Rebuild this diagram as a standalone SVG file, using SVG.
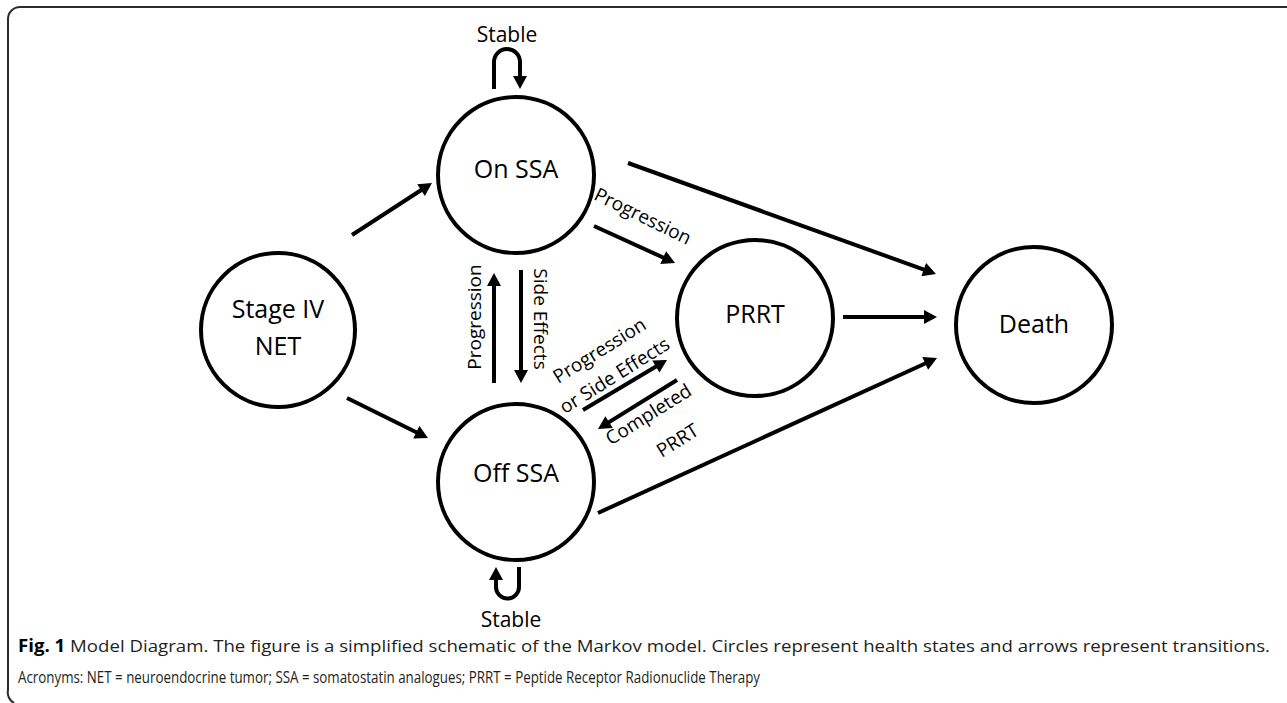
<svg xmlns="http://www.w3.org/2000/svg" width="1287" height="703" viewBox="0 0 1287 703">
<style>
.node circle{fill:#fff;stroke:#000;stroke-width:4}
.lbl{font-family:"Open Sans","Noto Sans",sans-serif;font-size:25px;fill:#000;text-anchor:middle}
.el{font-family:"Open Sans","Noto Sans",sans-serif;font-size:19px;fill:#000;text-anchor:middle}
.st{font-family:"Open Sans","Noto Sans",sans-serif;font-size:21px;fill:#000;text-anchor:middle}
.edge{fill:none;stroke:#000;stroke-width:4;marker-end:url(#ah)}
.cap{font-family:"Open Sans","Noto Sans",sans-serif;font-size:17px;fill:#231f20}
</style>
<defs>
<marker id="ah" markerUnits="userSpaceOnUse" markerWidth="14" markerHeight="14" refX="9" refY="7" orient="auto" viewBox="0 0 13 14">
<path d="M0,0 L13,7 L0,14 z" fill="#000"/>
</marker>
</defs>
<path d="M1290,7 H20 A12,12 0 0 0 8,19 V690 A12,12 0 0 0 14,703" fill="none" stroke="#2b2b2b" stroke-width="2"/>
<g id="connectors">
<line class="edge" x1="352" y1="235" x2="428.6" y2="185.2"/>
<line class="edge" x1="347" y1="398" x2="424.4" y2="436.2"/>
<line class="edge" x1="628" y1="163" x2="932.2" y2="272.6"/>
<line class="edge" x1="843" y1="317" x2="933" y2="317"/>
<line class="edge" x1="598" y1="513" x2="933.4" y2="359.7"/>
<line class="edge" x1="594" y1="226" x2="671.4" y2="261.3"/>
<line class="edge" x1="494" y1="383" x2="494" y2="277"/>
<line class="edge" x1="521" y1="270" x2="521" y2="379"/>
<line class="edge" x1="583" y1="410" x2="663.6" y2="362"/>
<line class="edge" x1="677" y1="380" x2="601.4" y2="426.9"/>
<path class="edge" d="M494,89 V62 A13,13 0 0 1 520,62 V85"/>
<path class="edge" d="M519,567 V587 A11.5,11.5 0 0 1 496,587 V571"/>
<text class="st" x="507" y="42">Stable</text>
<text class="st" x="511" y="627">Stable</text>
<text class="el" transform="translate(481,317) rotate(-90)">Progression</text>
<text class="el" transform="translate(534,319) rotate(90)">Side Effects</text>
<text class="el" transform="translate(640,222) rotate(26)">Progression</text>
<text class="el" transform="translate(603,356) rotate(-32)">Progression</text>
<text class="el" transform="translate(618,381) rotate(-32)">or Side Effects</text>
<text class="el" transform="translate(652,420) rotate(-32)">Completed</text>
<text class="el" transform="translate(681,446) rotate(-32)">PRRT</text>
</g>
<g id="node-stage4" class="node">
<circle cx="278" cy="330" r="77"/>
<text class="lbl" x="278" y="318">Stage IV</text>
<text class="lbl" x="278" y="355">NET</text>
</g>
<g id="node-onssa" class="node">
<circle cx="516" cy="175" r="78"/>
<text class="lbl" x="516" y="178">On SSA</text>
</g>
<g id="node-offssa" class="node">
<circle cx="516" cy="482" r="78"/>
<text class="lbl" x="516" y="482">Off SSA</text>
</g>
<g id="node-prrt" class="node">
<circle cx="755" cy="318" r="78"/>
<text class="lbl" x="755" y="323">PRRT</text>
</g>
<g id="node-death" class="node">
<circle cx="1034" cy="325" r="78"/>
<text class="lbl" x="1034" y="333">Death</text>
</g>
<g id="caption">
<text class="cap" x="18" y="652" textLength="1252" lengthAdjust="spacingAndGlyphs"><tspan font-weight="bold" fill="#000">Fig. 1</tspan> Model Diagram. The figure is a simplified schematic of the Markov model. Circles represent health states and arrows represent transitions.</text>
<text class="cap" x="18" y="683" textLength="742" lengthAdjust="spacingAndGlyphs">Acronyms: NET = neuroendocrine tumor; SSA = somatostatin analogues; PRRT = Peptide Receptor Radionuclide Therapy</text>
</g>
</svg>
